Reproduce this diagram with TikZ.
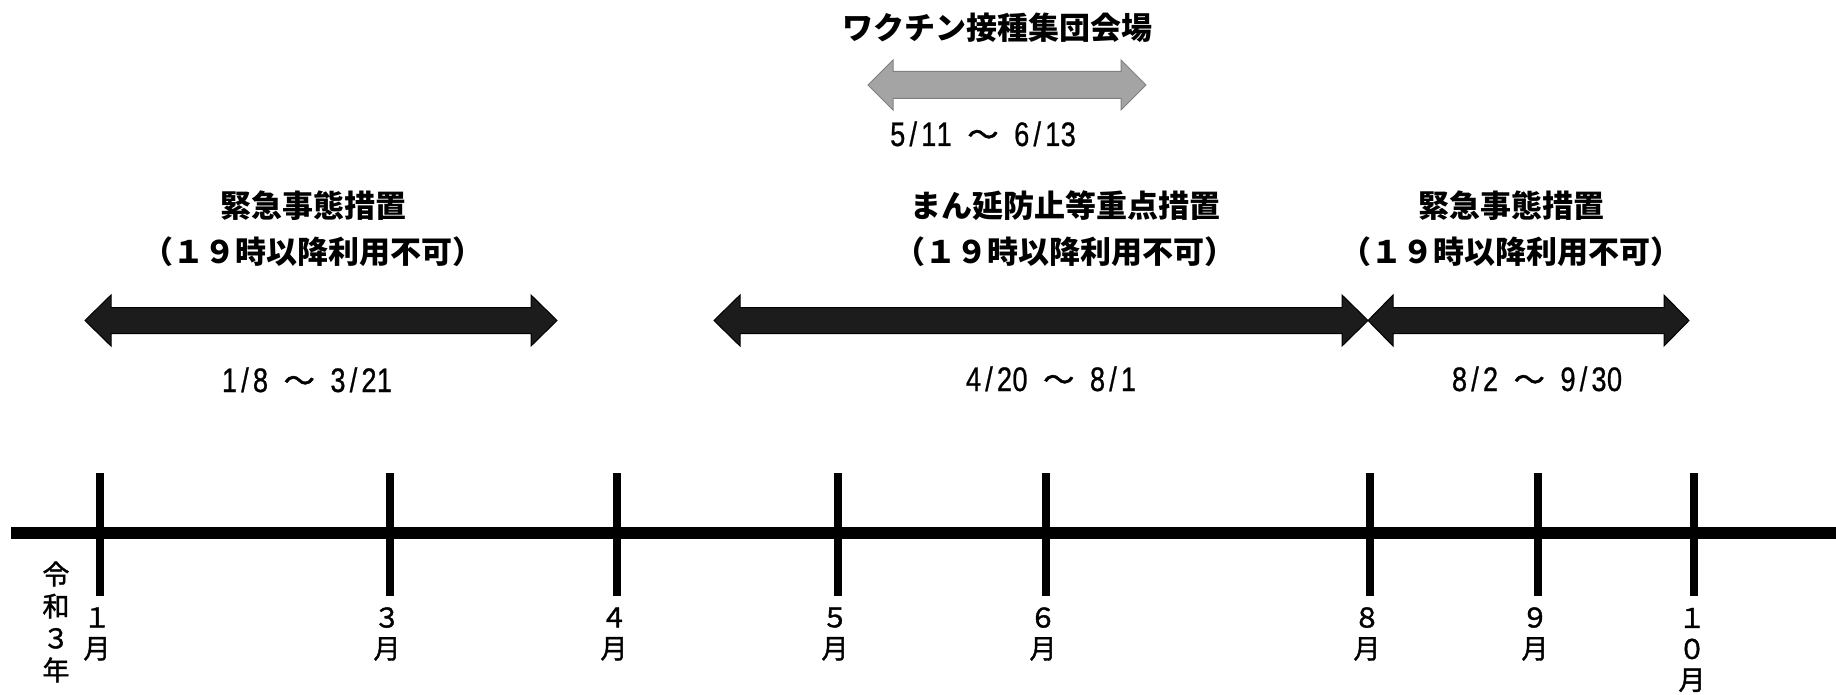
\documentclass[tikz,border=0pt]{standalone}
\usepackage{fontspec}
\usepackage{graphicx}
\setmainfont{Noto Sans CJK JP}
\newfontfamily\jp{Noto Sans CJK JP}
\newfontfamily\jpm[FakeBold=1.5]{Noto Sans CJK JP}
\newfontfamily\dg[FakeBold=0.8]{Liberation Sans}
\newcommand\hwc[1]{\makebox[15.5pt]{\scalebox{0.8}[1]{#1}}}
\def\hwloop#1{\ifx#1\relax\else\hwc{#1}\expandafter\hwloop\fi}
\newcommand\dates[2]{{\dg\fontsize{34}{34}\selectfont\hwloop#1\relax\hspace{15.5pt}\makebox[31pt]{\jpm\fontsize{31}{31}\selectfont ～}\hspace{15.5pt}\hwloop#2\relax}}
% double block arrow: left x, right x, centre y, head length, head half, shaft half, style
\newcommand\dblarrow[7]{%
  \filldraw[#7] (#1,#3) -- (#1+#4,#3-#5) -- (#1+#4,#3-#6) -- (#2-#4,#3-#6) -- (#2-#4,#3-#5) -- (#2,#3)
    -- (#2-#4,#3+#5) -- (#2-#4,#3+#6) -- (#1+#4,#3+#6) -- (#1+#4,#3+#5) -- cycle;}
\definecolor{darkfill}{HTML}{1C1C1C}
\definecolor{grayfill}{HTML}{A4A4A4}
\definecolor{grayline}{HTML}{808080}
\tikzset{
  head/.style={inner sep=0pt, font=\jp\bfseries\fontsize{31}{31}\selectfont},
  datelbl/.style={inner sep=0pt, anchor=base},
  mon/.style={inner sep=0pt, align=center, font=\jpm\fontsize{27}{31}\selectfont},
  tick/.style={line width=8pt},
  axis/.style={line width=12pt},
  blackarrow/.style={fill=darkfill, draw=black, line width=1pt, line join=miter},
  grayarrow/.style={fill=grayfill, draw=grayline, line width=1pt, line join=miter}
}
\begin{document}
\begin{tikzpicture}[x=1pt,y=-1pt]
\useasboundingbox[fill=white] (0,0) rectangle (1836,695);

% axis
\coordinate (axL) at (11,533);
\coordinate (axR) at (1836,533);
\draw[axis] (axL) -- (axR);

% ticks
\foreach \n/\x in {t1/99.5,t3/390,t4/617,t5/838,t6/1046,t8/1370,t9/1538,t10/1694}{
  \coordinate (\n top) at (\x,473);
  \coordinate (\n bot) at (\x,596);
  \draw[tick] (\n top) -- (\n bot);
}

% month labels
\node[mon] (m1) at (97,634) {１\\月};
\node[mon] (m3) at (387,634) {３\\月};
\node[mon] (m4) at (614,634) {４\\月};
\node[mon] (m5) at (835,634) {５\\月};
\node[mon] (m6) at (1043,634) {６\\月};
\node[mon] (m8) at (1367,634) {８\\月};
\node[mon] (m9) at (1535,634) {９\\月};
\node[mon] (m10) at (1692,650) {１\\０\\月};
\node[mon, font=\jpm\fontsize{27}{32}\selectfont] (era) at (56,622) {令\\和\\３\\年};

% block arrows
\dblarrow{85}{557}{320.5}{26}{25.5}{13}{blackarrow}
\dblarrow{714}{1368}{320.5}{26}{25.5}{13}{blackarrow}
\dblarrow{1368}{1689}{320.5}{25}{25.5}{13}{blackarrow}
\dblarrow{868}{1146}{85}{25}{25}{13.5}{grayarrow}

% headings
\node[head] (h1) at (313,206) {緊急事態措置};
\node[head] (p1) at (313,252) {（１９時以降利用不可）};
\node[head] (h2) at (1065,206) {まん延防止等重点措置};
\node[head] (p2) at (1065,252) {（１９時以降利用不可）};
\node[head] (h3) at (1511,206) {緊急事態措置};
\node[head] (p3) at (1511,252) {（１９時以降利用不可）};
\node[head] (hv) at (997,28) {ワクチン接種集団会場};

% dates
\node[datelbl] (d1) at (307,392) {\dates{1/8}{3/21}};
\node[datelbl] (d2) at (1051,391) {\dates{4/20}{8/1}};
\node[datelbl] (d3) at (1537,391) {\dates{8/2}{9/30}};
\node[datelbl] (dv) at (983,146) {\dates{5/11}{6/13}};
\end{tikzpicture}
\end{document}
